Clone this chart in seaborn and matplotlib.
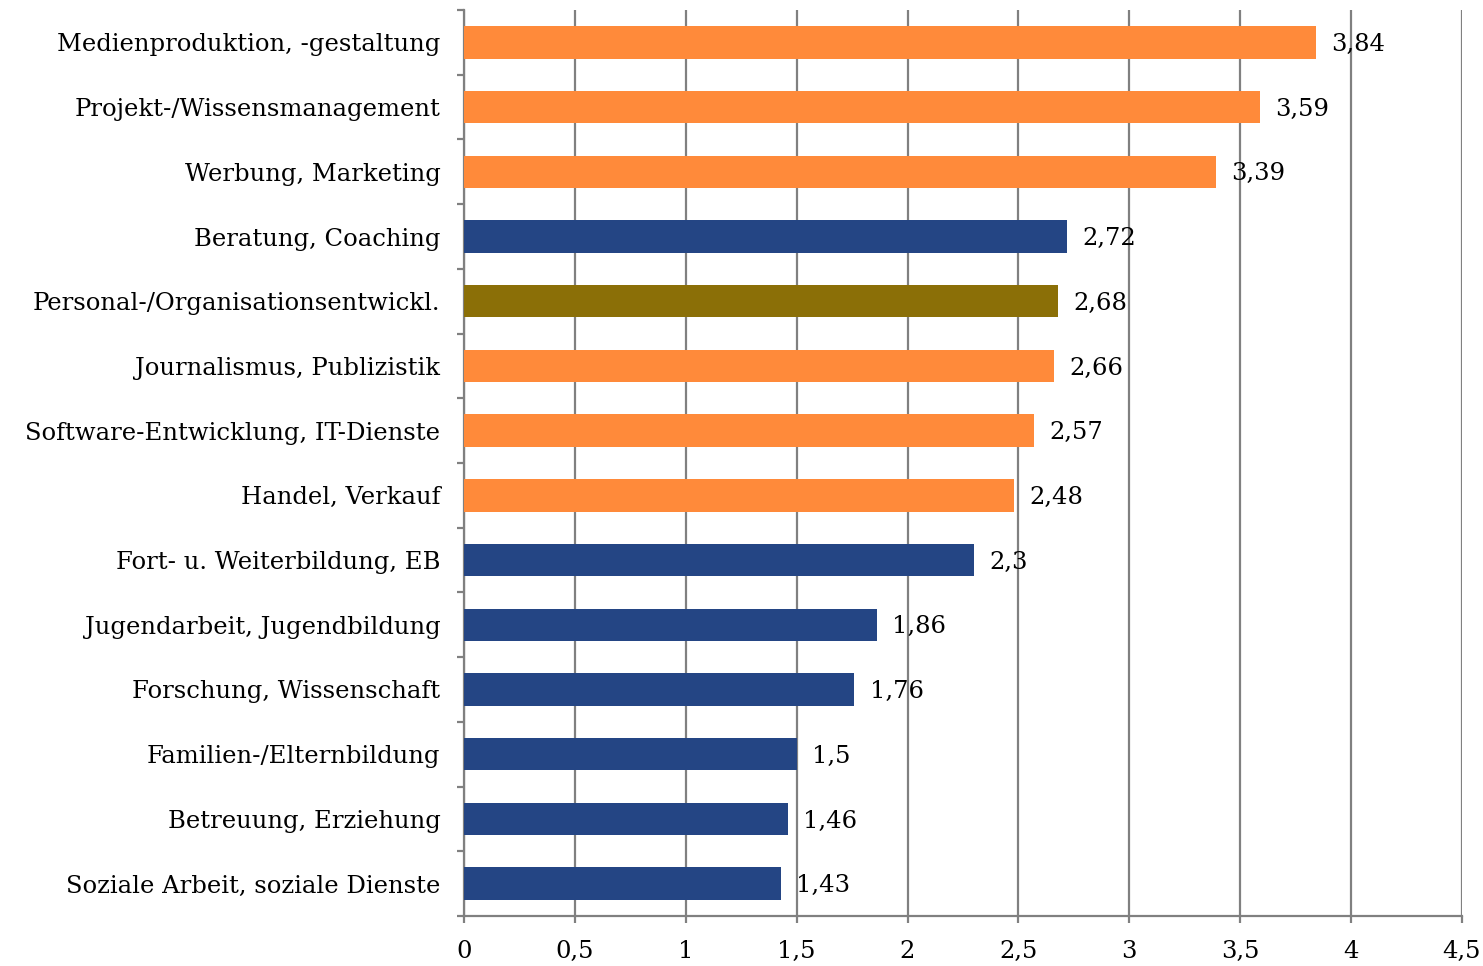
import matplotlib
matplotlib.use("Agg")
import matplotlib.pyplot as plt
import seaborn as sns
import numpy as np
import pandas as pd
from matplotlib.ticker import FixedLocator

categories = [
    "Medienproduktion, -gestaltung",
    "Projekt-/Wissensmanagement",
    "Werbung, Marketing",
    "Beratung, Coaching",
    "Personal-/Organisationsentwickl.",
    "Journalismus, Publizistik",
    "Software-Entwicklung, IT-Dienste",
    "Handel, Verkauf",
    "Fort- u. Weiterbildung, EB",
    "Jugendarbeit, Jugendbildung",
    "Forschung, Wissenschaft",
    "Familien-/Elternbildung",
    "Betreuung, Erziehung",
    "Soziale Arbeit, soziale Dienste",
]
values = [3.84, 3.59, 3.39, 2.72, 2.68, 2.66, 2.57, 2.48, 2.3, 1.86, 1.76, 1.5, 1.46, 1.43]
groups = ["o", "o", "o", "b", "g", "o", "o", "o", "b", "b", "b", "b", "b", "b"]
group_colors = {"o": "#FF8A3A", "b": "#244584", "g": "#8B6F07"}
x_ticks = [0, 0.5, 1, 1.5, 2, 2.5, 3, 3.5, 4, 4.5]
x_tick_labels = ["0", "0,5", "1", "1,5", "2", "2,5", "3", "3,5", "4", "4,5"]

df = pd.DataFrame({"Bereich": categories, "Wert": values, "Gruppe": groups})
palette = {c: group_colors[g] for c, g in zip(categories, groups)}

sns.set_style("white")
plt.rcParams["font.family"] = ["DejaVu Serif"]
plt.rcParams["text.color"] = "black"
plt.rcParams["xtick.labelcolor"] = "black"
plt.rcParams["ytick.labelcolor"] = "black"

fig = plt.figure(figsize=(14.83, 9.66), dpi=100)
ax = fig.add_axes([0.3129, 0.0518, 0.9858 - 0.3129, 0.9896 - 0.0518])

sns.barplot(data=df, x="Wert", y="Bereich", hue="Bereich", palette=palette,
            legend=False, width=0.5, orient="h", saturation=1, linewidth=0,
            ax=ax, zorder=3)

grey = "#808080"
ax.set_xlim(0, 4.5)
ax.set_ylim(len(categories) - 0.5, -0.5)
ax.set_xticks(x_ticks)
ax.set_xticklabels(x_tick_labels)
ax.xaxis.grid(True, color=grey, linewidth=1.6, zorder=0)
ax.set_axisbelow(True)
ax.yaxis.grid(False)

for side in ["top", "right"]:
    ax.spines[side].set_visible(False)
for side in ["left", "bottom"]:
    ax.spines[side].set_color(grey)
    ax.spines[side].set_linewidth(1.6)

ax.yaxis.set_minor_locator(FixedLocator(np.arange(-0.5, len(categories), 1.0)))
ax.tick_params(axis="y", which="major", length=0, pad=17, labelsize=17.5, labelcolor="black")
ax.tick_params(axis="y", which="minor", length=5, width=1.6, color=grey, direction="out", left=True)
ax.tick_params(axis="x", which="major", length=5, width=1.6, color=grey, direction="out",
               bottom=True, pad=12, labelsize=17.5, labelcolor="black")
ax.set_xlabel("")
ax.set_ylabel("")

for i, v in enumerate(values):
    label = f"{v:g}".replace(".", ",")
    ax.annotate(label, xy=(v, i), xytext=(11, -1.5), textcoords="offset points",
                va="center", ha="left", fontsize=17.5, color="black", zorder=5)

fig.savefig("out.png", dpi=100)
